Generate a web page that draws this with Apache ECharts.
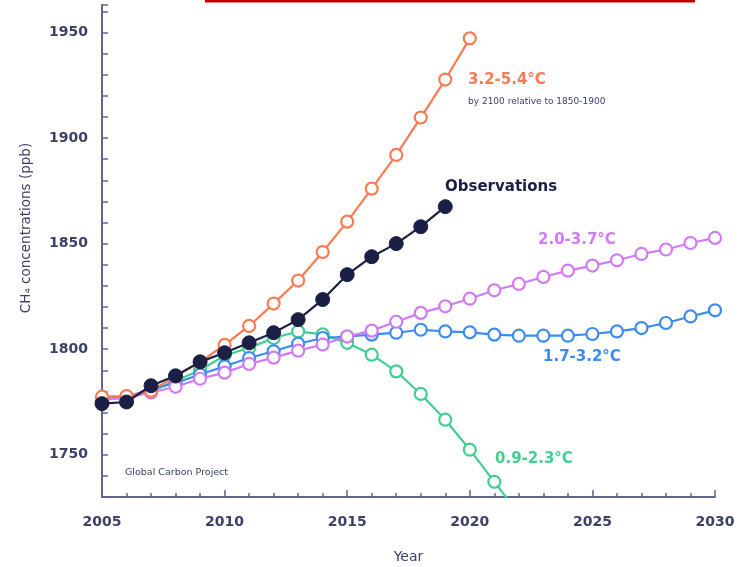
<!DOCTYPE html>
<html>
<head>
<meta charset="utf-8">
<script src="https://cdn.jsdelivr.net/npm/echarts@6/dist/echarts.min.js"></script>
<style>
html,body{margin:0;padding:0;background:#fff;}
#chart{width:741px;height:567px;}
</style>
</head>
<body>
<div id="chart"></div>
<script>
// Years 2005..2030
const years = [2005,2006,2007,2008,2009,2010,2011,2012,2013,2014,2015,2016,2017,2018,2019,2020,2021,2022,2023,2024,2025,2026,2027,2028,2029,2030];
const observations = [1774.2,1775,1782.7,1787.4,1794,1798.3,1803,1807.8,1814,1823.5,1835.3,1843.8,1850,1858,1867.5];
const scen_32_54 = [1777.5,1777.8,1780.3,1787,1794,1802,1811,1821.6,1832.5,1846,1860.4,1876,1892,1909.7,1927.7,1947.2];
const scen_20_37 = [1776,1777,1779.5,1782.2,1786,1788.9,1793,1796,1799.3,1802.2,1806,1808.8,1813,1817.2,1820.3,1823.9,1827.9,1830.9,1834.2,1837.2,1839.6,1842.1,1845.1,1847.2,1850.3,1852.7];
const scen_17_32 = [1776,1777.5,1781,1784,1788,1791.9,1795.8,1799,1802.6,1805.3,1806,1806.9,1807.8,1809.2,1808.4,1808,1806.9,1806.4,1806.4,1806.4,1807.2,1808.4,1810,1812.4,1815.5,1818.4];
const scen_09_23 = [1776.5,1777,1780,1785,1790,1797,1800.6,1805.3,1808.4,1807,1803,1797.4,1789.5,1778.8,1766.6,1752.4,1737.2,1722];

const C_OBS = '#1b1f45', C_OR = '#fa7a52', C_MG = '#d27af4', C_BL = '#3b8cf0', C_GR = '#3fd08f';
const AXIS = '#62668a', TXT = '#3d4166';
const FONT = '"DejaVu Sans"';

function pairs(arr){ return arr.map((v,i)=>[years[i], v]); }

function scen(name, arr, color, z){
  return {
    name, type:'line', data: pairs(arr), z,
    symbol:'circle', symbolSize:12,
    lineStyle:{color, width:2.2},
    itemStyle:{color:'#ffffff', borderColor:color, borderWidth:2.2},
    emphasis:{disabled:true}, animation:false
  };
}

const chart = echarts.init(document.getElementById('chart'), null, {renderer:'canvas'});
chart.setOption({
  backgroundColor:'#ffffff',
  animation:false,
  grid:{left:102, right:26, top:5, bottom:70, containLabel:false, outerBoundsMode:'none'},
  xAxis:{
    type:'value', min:2005, max:2030, interval:5,
    axisLine:{show:true, lineStyle:{color:AXIS, width:2}},
    axisTick:{show:true, inside:true, length:7, lineStyle:{color:AXIS, width:1.5}},
    minorTick:{show:true, splitNumber:5, length:4, lineStyle:{color:AXIS, width:1.5}},
    splitLine:{show:false},
    axisLabel:{color:TXT, fontSize:14, fontWeight:'bold', fontFamily:'DejaVu Sans', margin:18, formatter:v=>String(v)},
    name:'Year', nameLocation:'middle', nameGap:53,
    nameTextStyle:{color:TXT, fontSize:14, fontWeight:'normal', fontFamily:'DejaVu Sans'}
  },
  yAxis:{
    type:'value', min:1730, max:1963, interval:10,
    axisLine:{show:true, lineStyle:{color:AXIS, width:2}},
    axisTick:{show:true, inside:true, length:6, lineStyle:{color:AXIS, width:1.5}},
    splitLine:{show:false},
    axisLabel:{color:TXT, fontSize:14, fontWeight:'bold', fontFamily:'DejaVu Sans', margin:14,
      formatter:v=> (v % 50 === 0 ? String(v) : '')}
  },
  series:[
    scen('0.9-2.3°C', scen_09_23, C_GR, 2),
    scen('1.7-3.2°C', scen_17_32, C_BL, 3),
    scen('2.0-3.7°C', scen_20_37, C_MG, 4),
    scen('3.2-5.4°C', scen_32_54, C_OR, 5),
    {
      name:'Observations', type:'line', data:pairs(observations), z:6,
      symbol:'circle', symbolSize:14,
      lineStyle:{color:C_OBS, width:2.2},
      itemStyle:{color:C_OBS, borderColor:C_OBS, borderWidth:1},
      emphasis:{disabled:true}, animation:false
    }
  ],
  graphic:[
    {type:'rect', shape:{x:205, y:0, width:490, height:2.5}, style:{fill:'#c00000'}, silent:true},
    {type:'text', x:26, y:228, rotation:Math.PI/2,
      style:{text:'CH₄ concentrations (ppb)', fill:TXT, font:'13.5px ' + FONT, align:'center', verticalAlign:'middle'}},
    {type:'text', x:468, y:80, style:{text:'3.2-5.4°C', fill:C_OR, font:'bold 15px ' + FONT, align:'left', verticalAlign:'middle'}},
    {type:'text', x:468, y:101.5, style:{text:'by 2100 relative to 1850-1900', fill:TXT, font:'9px ' + FONT, align:'left', verticalAlign:'middle'}},
    {type:'text', x:445, y:187.5, style:{text:'Observations', fill:C_OBS, font:'bold 15px ' + FONT, align:'left', verticalAlign:'middle'}},
    {type:'text', x:538, y:240, style:{text:'2.0-3.7°C', fill:C_MG, font:'bold 15px ' + FONT, align:'left', verticalAlign:'middle'}},
    {type:'text', x:543, y:357.5, style:{text:'1.7-3.2°C', fill:C_BL, font:'bold 15px ' + FONT, align:'left', verticalAlign:'middle'}},
    {type:'text', x:495, y:459, style:{text:'0.9-2.3°C', fill:C_GR, font:'bold 15px ' + FONT, align:'left', verticalAlign:'middle'}},
    {type:'text', x:125, y:473, style:{text:'Global Carbon Project', fill:TXT, font:'9.5px ' + FONT, align:'left', verticalAlign:'middle'}}
  ]
});
</script>
</body>
</html>
